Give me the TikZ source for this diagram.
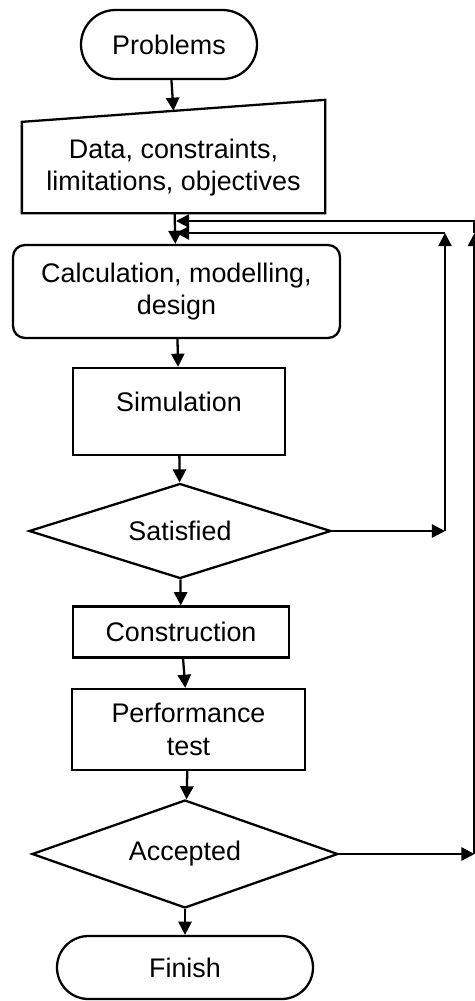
\documentclass[tikz,border=0pt]{standalone}
\usepackage{fontspec}
\setmainfont{Liberation Sans}
\usepackage{tikz}
\usetikzlibrary{shapes.geometric, positioning, arrows.meta}

\begin{document}
\begin{tikzpicture}[on grid, line width=1.3pt, >={Triangle[length=7.5pt, width=7.5pt]},
    every node/.style={font=\fontsize{15.3}{18.5}\selectfont, align=center, inner sep=0pt},
    term/.style={draw, rectangle},
    inbox/.style={rectangle},
    rnd/.style={draw, rectangle, rounded corners=0.24cm},
    block/.style={draw, rectangle},
    decision/.style={draw, diamond, aspect=3}]
    \useasboundingbox (0,0) rectangle (9.5,-20.02);

    \node[term, minimum width=3.52cm, minimum height=1.38cm, rounded corners=0.69cm] (prob) at (3.38,-0.89) {Problems};
    \node[inbox, below=2.46cm of prob, xshift=0.09cm, minimum width=6.02cm, minimum height=1.78cm] (data) {Data, constraints,\\limitations, objectives};
    \draw (data.south west) -- (data.south east) -- ([yshift=0.44cm]data.north east) -- (data.north west) -- cycle;
    \node[rnd, below=2.48cm of data, xshift=0.06cm, minimum width=6.54cm, minimum height=1.86cm] (calc) {Calculation, modelling,\\design};
    \node[block, below=2.40cm of calc, xshift=0.05cm, minimum width=4.24cm, minimum height=1.74cm, text depth=0.4cm] (sim) {Simulation};
    \node[decision, below=2.39cm of sim, xshift=0.02cm, minimum width=6.04cm, minimum height=1.90cm] (sat) {Satisfied};
    \node[block, below=2.02cm of sat, xshift=0.02cm, minimum width=4.32cm, minimum height=1.02cm] (cons) {Construction};
    \node[block, below=1.95cm of cons, xshift=0.15cm, minimum width=4.66cm, minimum height=1.62cm] (perf) {Performance\\test};
    \node[decision, below=2.49cm of perf, xshift=-0.07cm, minimum width=6.12cm, minimum height=2.16cm] (acc) {Accepted};
    \node[term, below=2.27cm of acc, minimum width=5.12cm, minimum height=1.26cm, rounded corners=0.63cm] (fin) {Finish};

    \coordinate (datatop) at ([yshift=0.22cm]data.north);
    \coordinate (in1) at (3.52,-4.42);
    \coordinate (in2) at (3.52,-4.66);
    \coordinate (satup) at (8.90,-4.66);
    \coordinate (satturn) at (sat.east -| satup);
    \coordinate (accarr) at (9.49,-4.66);
    \coordinate (accup) at (9.49,-4.42);
    \coordinate (accturn) at (acc.east -| accup);

    \path[->]
        (prob) edge (datatop)
        (data) edge (calc)
        (calc) edge (sim)
        (sim) edge (sat)
        (sat) edge (cons)
        (cons) edge (perf)
        (perf) edge (acc)
        (acc) edge (fin)
        % not satisfied: back to the calculation
        (sat) edge (satturn)
        (satturn) edge (satup)
        (satup) edge (in2)
        % not accepted: round the outside
        (acc) edge (accturn)
        (accturn) edge (accarr);
    \draw[->] (accarr) -- (accup) -- (in1);
\end{tikzpicture}
\end{document}
